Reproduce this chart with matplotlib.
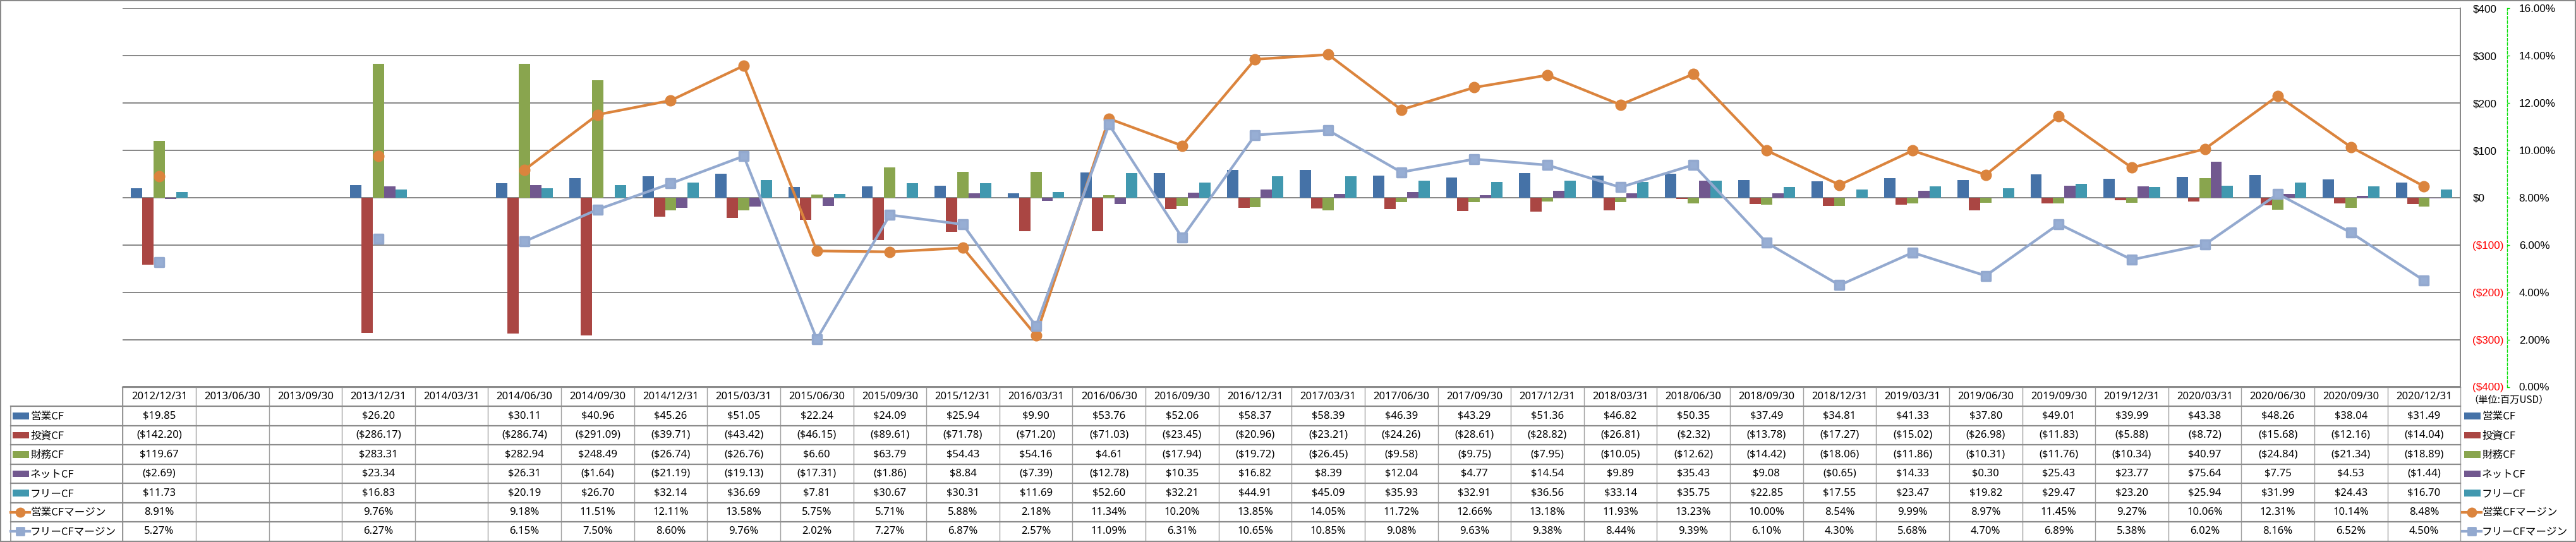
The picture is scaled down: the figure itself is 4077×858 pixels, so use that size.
import numpy as np
import matplotlib
matplotlib.use("Agg")
import matplotlib.pyplot as plt
import matplotlib.transforms as mtransforms
from matplotlib.lines import Line2D
from matplotlib.patches import Rectangle
from matplotlib.markers import MarkerStyle

nan = np.nan

categories = ["2012/12/31", "2013/06/30", "2013/09/30", "2013/12/31", "2014/03/31", "2014/06/30",
              "2014/09/30", "2014/12/31", "2015/03/31", "2015/06/30", "2015/09/30", "2015/12/31",
              "2016/03/31", "2016/06/30", "2016/09/30", "2016/12/31", "2017/03/31", "2017/06/30",
              "2017/09/30", "2017/12/31", "2018/03/31", "2018/06/30", "2018/09/30", "2018/12/31",
              "2019/03/31", "2019/06/30", "2019/09/30", "2019/12/31", "2020/03/31", "2020/06/30",
              "2020/09/30", "2020/12/31"]

operating_cf = [19.85, nan, nan, 26.20, nan, 30.11, 40.96, 45.26, 51.05, 22.24, 24.09, 25.94,
                9.90, 53.76, 52.06, 58.37, 58.39, 46.39, 43.29, 51.36, 46.82, 50.35, 37.49, 34.81,
                41.33, 37.80, 49.01, 39.99, 43.38, 48.26, 38.04, 31.49]
investing_cf = [-142.20, nan, nan, -286.17, nan, -286.74, -291.09, -39.71, -43.42, -46.15, -89.61, -71.78,
                -71.20, -71.03, -23.45, -20.96, -23.21, -24.26, -28.61, -28.82, -26.81, -2.32, -13.78, -17.27,
                -15.02, -26.98, -11.83, -5.88, -8.72, -15.68, -12.16, -14.04]
financing_cf = [119.67, nan, nan, 283.31, nan, 282.94, 248.49, -26.74, -26.76, 6.60, 63.79, 54.43,
                54.16, 4.61, -17.94, -19.72, -26.45, -9.58, -9.75, -7.95, -10.05, -12.62, -14.42, -18.06,
                -11.86, -10.31, -11.76, -10.34, 40.97, -24.84, -21.34, -18.89]
net_cf = [-2.69, nan, nan, 23.34, nan, 26.31, -1.64, -21.19, -19.13, -17.31, -1.86, 8.84,
          -7.39, -12.78, 10.35, 16.82, 8.39, 12.04, 4.77, 14.54, 9.89, 35.43, 9.08, -0.65,
          14.33, 0.30, 25.43, 23.77, 75.64, 7.75, 4.53, -1.44]
free_cf = [11.73, nan, nan, 16.83, nan, 20.19, 26.70, 32.14, 36.69, 7.81, 30.67, 30.31,
           11.69, 52.60, 32.21, 44.91, 45.09, 35.93, 32.91, 36.56, 33.14, 35.75, 22.85, 17.55,
           23.47, 19.82, 29.47, 23.20, 25.94, 31.99, 24.43, 16.70]
operating_margin = [8.91, nan, nan, 9.76, nan, 9.18, 11.51, 12.11, 13.58, 5.75, 5.71, 5.88,
                    2.18, 11.34, 10.20, 13.85, 14.05, 11.72, 12.66, 13.18, 11.93, 13.23, 10.00, 8.54,
                    9.99, 8.97, 11.45, 9.27, 10.06, 12.31, 10.14, 8.48]
free_margin = [5.27, nan, nan, 6.27, nan, 6.15, 7.50, 8.60, 9.76, 2.02, 7.27, 6.87,
               2.57, 11.09, 6.31, 10.65, 10.85, 9.08, 9.63, 9.38, 8.44, 9.39, 6.10, 4.30,
               5.68, 4.70, 6.89, 5.38, 6.02, 8.16, 6.52, 4.50]

bar_names = ["営業CF", "投資CF", "財務CF", "ネットCF", "フリーCF"]
line_names = ["営業CFマージン", "フリーCFマージン"]
left_ticks = [-400, -300, -200, -100, 0, 100, 200, 300, 400]
right_ticks = [0, 2, 4, 6, 8, 10, 12, 14, 16]
unit_label = "（単位:百万USD）"

bar_colors = ["#4572A7", "#AA4643", "#89A54E", "#71588F", "#4198AF"]
line_colors = ["#DB843D", "#93A9CF"]

W, H = 4077, 858
DPI = 100
fig = plt.figure(figsize=(W / DPI, H / DPI), dpi=DPI)
fig.patch.set_facecolor("white")

def fx(px):
    return px / W

def fy(py):
    return 1 - py / H

LAT = ["Noto Sans", "Noto Sans CJK JP"]
JP = ["Noto Sans CJK JP", "Noto Sans"]
AXF = ["Liberation Sans", "DejaVu Sans"]

PL, PR, PT, PB = 194.3, 3894.3, 13.4, 612.5
ax = fig.add_axes([fx(PL), fy(PB), (PR - PL) / W, (PB - PT) / H])
n = len(categories)
x = np.arange(n)
ax.set_xlim(-0.5, n - 0.5)
ax.set_ylim(-400, 400)
ax.set_xticks([])
ax.set_facecolor("none")
ax.set_axisbelow(True)
ax.grid(axis="y", color="#868686", linewidth=1.4)

bw = 0.155
series = [operating_cf, investing_cf, financing_cf, net_cf, free_cf]
for k, (vals, col) in enumerate(zip(series, bar_colors)):
    v = np.array(vals, dtype=float)
    m = np.isfinite(v)
    ax.bar(x[m] + (k - 2) * bw, v[m], bw, color=col, linewidth=0, zorder=2)

ax2 = ax.twinx()

# primary axis: labels on the right of the plot area
for s in ["top", "left", "bottom"]:
    ax.spines[s].set_visible(False)
ax.spines["right"].set_visible(True)
ax.spines["right"].set_color("#868686")
ax.spines["right"].set_linewidth(1.4)
ax.yaxis.tick_right()
ax.yaxis.set_label_position("right")
ax.set_yticks(left_ticks, labels=[f"${v}" if v >= 0 else f"(${-v})" for v in left_ticks])
ax.tick_params(axis="y", which="both", left=False, right=True, labelleft=False, labelright=True,
               length=0, pad=13.7, labelsize=12.3)
for v, lbl in zip(left_ticks, ax.get_yticklabels()):
    lbl.set_color("#FF0000" if v < 0 else "black")
    lbl.set_family(AXF)

ax2.set_ylim(0, 16)
ax2.set_xlim(-0.5, n - 0.5)
for s in ["top", "left", "bottom"]:
    ax2.spines[s].set_visible(False)
ax2.spines["right"].set_position(("axes", (3967.7 - PL) / (PR - PL)))
ax2.spines["right"].set_color("#00DD00")
ax2.spines["right"].set_linestyle((0, (3, 2)))
ax2.spines["right"].set_linewidth(1.0)
ax2.set_yticks(right_ticks, labels=[f"{v:.2f}%" for v in right_ticks])
ax2.tick_params(axis="y", color="#00DD00", labelcolor="black", length=3, width=1,
                pad=10.7, direction="out", labelsize=12.3)
for lbl in ax2.get_yticklabels():
    lbl.set_family(AXF)

ax2.plot(x, operating_margin, color=line_colors[0], lw=3, marker="o", ms=12,
         mfc=line_colors[0], mec=line_colors[0], zorder=3, solid_joinstyle="round")
sq = MarkerStyle("s", joinstyle="round")
ax2.plot(x, free_margin, color=line_colors[1], lw=3, marker=sq, ms=10.5, mew=2.5,
         mfc="#97AED4", mec=line_colors[1], zorder=4, solid_joinstyle="round")

# ---- data table ----
trans = mtransforms.blended_transform_factory(ax.transData, fig.transFigure)
row_edges = np.linspace(612.5, 856.7, 9)
grid_c = "#8C8C8C"

for i in range(n + 1):
    fig.add_artist(Line2D([i - 0.5, i - 0.5], [fy(row_edges[0]), fy(row_edges[-1])],
                          transform=trans, color="#A0A0A0", lw=1.0))
fig.add_artist(Line2D([fx(16.7), fx(16.7)], [fy(row_edges[1]), fy(row_edges[-1])],
                      transform=fig.transFigure, color=grid_c, lw=1.2))
fig.add_artist(Line2D([fx(PL), fx(PL)], [fy(row_edges[0]), fy(row_edges[-1])],
                      transform=fig.transFigure, color=grid_c, lw=1.2))
fig.add_artist(Line2D([fx(PL), fx(PR)], [fy(row_edges[0])] * 2,
                      transform=fig.transFigure, color=grid_c, lw=1.6))
for r in range(1, 9):
    fig.add_artist(Line2D([fx(16.7), fx(PR)], [fy(row_edges[r])] * 2,
                          transform=fig.transFigure, color=grid_c, lw=1.6))

def money(v):
    if not np.isfinite(v):
        return ""
    return f"${v:,.2f}" if v >= 0 else f"(${-v:,.2f})"

def pct(v):
    if not np.isfinite(v):
        return ""
    return f"{v:.2f}%"

hdr_y = (row_edges[0] + row_edges[1]) / 2
for i, c in enumerate(categories):
    fig.text(i, fy(hdr_y), c, transform=trans, ha="center", va="center",
             fontsize=12, family=LAT)

rows = [(s, money) for s in series] + [(operating_margin, pct), (free_margin, pct)]
for r, (vals, fmt) in enumerate(rows):
    yc = (row_edges[r + 1] + row_edges[r + 2]) / 2
    for i, v in enumerate(vals):
        fig.text(i, fy(yc), fmt(v), transform=trans, ha="center", va="center",
                 fontsize=12, family=LAT)

all_names = bar_names + line_names
def draw_key(x0, r, text_x):
    yc = (row_edges[r + 1] + row_edges[r + 2]) / 2
    if r < 5:
        fig.add_artist(Rectangle((fx(x0), fy(yc + 5.3)), 26 / W, 10.6 / H,
                                 transform=fig.transFigure, color=bar_colors[r], lw=0))
    else:
        col = line_colors[r - 5]
        fig.add_artist(Line2D([fx(x0 - 3), fx(x0 + 27)], [fy(yc)] * 2,
                              transform=fig.transFigure, color=col, lw=3))
        mk = "o" if r == 5 else sq
        fig.add_artist(Line2D([fx(x0 + 12)], [fy(yc)], transform=fig.transFigure,
                              marker=mk, ms=10.5 if r == 5 else 9, color=col,
                              mec=col, mew=2 if r == 6 else 1))
    fig.text(fx(text_x), fy(yc + 1), all_names[r], ha="left", va="center",
             fontsize=12, family=JP)

for r in range(7):
    draw_key(20, r, 48)
    draw_key(3900, r, 3928)

fig.text(fx(3907), fy(633), unit_label, ha="left", va="center", fontsize=11, family=JP)

fig.add_artist(Rectangle((fx(0.8), fy(856.8)), (4075.5 - 0.8) / W, (856.8 - 1.2) / H,
                         transform=fig.transFigure, fill=False, edgecolor="#868686", lw=1.4))

fig.savefig("out.png", dpi=DPI, facecolor="white")
